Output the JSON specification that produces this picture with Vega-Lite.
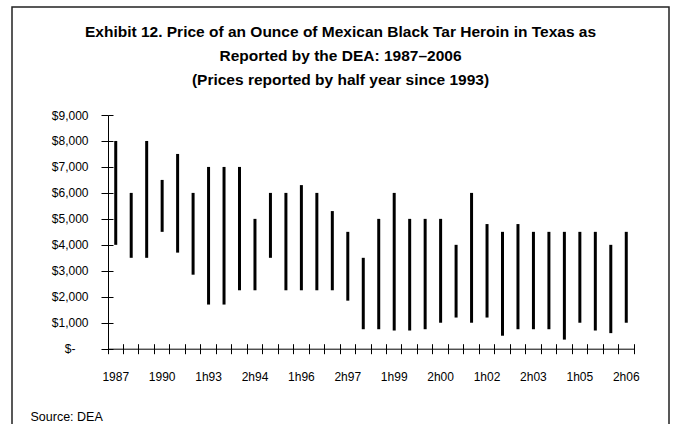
{
  "$schema": "https://vega.github.io/schema/vega-lite/v6.json",
  "width": 657,
  "height": 423,
  "autosize": "none",
  "padding": {"left": 12, "top": 7, "right": 4, "bottom": 0},
  "background": "white",
  "config": {
    "view": {"stroke": "#222", "strokeWidth": 1.5},
    "font": "Liberation Sans",
    "axis": {"labelFont": "Liberation Sans", "labelColor": "#000", "domainColor": "#000", "tickColor": "#000", "grid": false, "domainWidth": 1, "tickWidth": 1}
  },
  "title": {
    "text": ["Exhibit 12. Price of an Ounce of Mexican Black Tar Heroin in Texas as", "Reported by the DEA: 1987–2006", "(Prices reported by half year since 1993)"],
    "font": "Liberation Sans",
    "fontSize": 15.5,
    "fontWeight": "bold",
    "color": "#000",
    "lineHeight": 24,
    "anchor": "middle",
    "frame": "group",
    "offset": -81
  },
  "data": {
    "values": [
      {"period": "1987", "low": 4000, "high": 8000},
      {"period": "1988", "low": 3500, "high": 6000},
      {"period": "1989", "low": 3500, "high": 8000},
      {"period": "1990", "low": 4500, "high": 6500},
      {"period": "1991", "low": 3700, "high": 7500},
      {"period": "1992", "low": 2850, "high": 6000},
      {"period": "1h93", "low": 1700, "high": 7000},
      {"period": "2h93", "low": 1700, "high": 7000},
      {"period": "1h94", "low": 2250, "high": 7000},
      {"period": "2h94", "low": 2250, "high": 5000},
      {"period": "1h95", "low": 3500, "high": 6000},
      {"period": "2h95", "low": 2250, "high": 6000},
      {"period": "1h96", "low": 2250, "high": 6300},
      {"period": "2h96", "low": 2250, "high": 6000},
      {"period": "1h97", "low": 2250, "high": 5300},
      {"period": "2h97", "low": 1850, "high": 4500},
      {"period": "1h98", "low": 750, "high": 3500},
      {"period": "2h98", "low": 750, "high": 5000},
      {"period": "1h99", "low": 700, "high": 6000},
      {"period": "2h99", "low": 700, "high": 5000},
      {"period": "1h00", "low": 750, "high": 5000},
      {"period": "2h00", "low": 1000, "high": 5000},
      {"period": "1h01", "low": 1200, "high": 4000},
      {"period": "2h01", "low": 1000, "high": 6000},
      {"period": "1h02", "low": 1200, "high": 4800},
      {"period": "2h02", "low": 500, "high": 4500},
      {"period": "1h03", "low": 750, "high": 4800},
      {"period": "2h03", "low": 750, "high": 4500},
      {"period": "1h04", "low": 750, "high": 4500},
      {"period": "2h04", "low": 350, "high": 4500},
      {"period": "1h05", "low": 1000, "high": 4500},
      {"period": "2h05", "low": 700, "high": 4500},
      {"period": "1h06", "low": 600, "high": 4000},
      {"period": "2h06", "low": 1000, "high": 4500}
    ]
  },
  "layer": [
    {
      "mark": {"type": "rule", "strokeWidth": 3, "color": "#000"},
      "encoding": {
        "x": {
          "field": "period", "type": "nominal", "sort": null,
          "scale": {"range": [96, 622], "paddingInner": 0, "paddingOuter": 0},
          "axis": {
            "orient": "bottom", "offset": -81.3,
            "values": ["1987", "1990", "1h93", "2h94", "1h96", "2h97", "1h99", "2h00", "1h02", "2h03", "1h05", "2h06"],
            "ticks": false, "tickSize": 0, "labelPadding": 23, "labelAngle": 0, "labelFontSize": 12,
            "title": "Source: DEA", "titleAnchor": "start", "titleAlign": "left", "titleX": 18, "titleY": 68,
            "titleFontSize": 12.5, "titleFontWeight": "normal", "titleColor": "#000", "titleBaseline": "middle", "titleFont": "Liberation Sans"
          }
        },
        "y": {
          "field": "low", "type": "quantitative",
          "scale": {"domain": [0, 9000], "range": [341.7, 108], "nice": false, "zero": false},
          "axis": {
            "orient": "left", "offset": -96,
            "values": [0, 1000, 2000, 3000, 4000, 5000, 6000, 7000, 8000, 9000],
            "tickSize": 7,
            "labelPadding": {"condition": {"test": "datum.value == 0", "value": 26}, "value": 13},
            "labelFontSize": 12,
            "labelExpr": "datum.value == 0 ? '$-' : '$' + format(datum.value, ',')",
            "title": null
          }
        },
        "y2": {"field": "high"}
      }
    },
    {
      "mark": {"type": "rule", "opacity": 0},
      "encoding": {
        "x": {
          "field": "period", "type": "nominal", "sort": null,
          "axis": {"orient": "bottom", "offset": -86.3, "bandPosition": 0, "tickSize": 10, "labels": false, "domain": false, "title": null}
        },
        "y": {
          "field": "low", "type": "quantitative",
          "axis": {"orient": "left", "offset": -101, "values": [0, 1000, 2000, 3000, 4000, 5000, 6000, 7000, 8000, 9000], "tickSize": 5, "labels": false, "domain": false, "title": null}
        },
        "y2": {"field": "high"}
      }
    },
    {
      "mark": {"type": "rule", "opacity": 0},
      "encoding": {
        "x": {
          "field": "period", "type": "nominal", "sort": null,
          "axis": {"orient": "bottom", "offset": -86.3, "bandPosition": 1, "values": ["2h06"], "tickSize": 10, "labels": false, "domain": false, "title": null}
        },
        "y": {"field": "low", "type": "quantitative", "axis": null},
        "y2": {"field": "high"}
      }
    }
  ],
  "resolve": {"axis": {"x": "independent", "y": "independent"}}
}
